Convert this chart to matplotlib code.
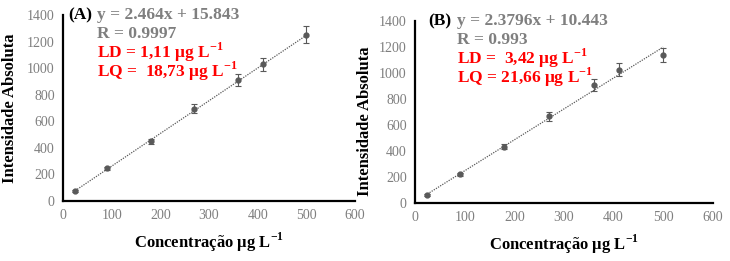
import matplotlib
matplotlib.use("Agg")
import matplotlib.pyplot as plt

plt.rcParams['font.family'] = ['Liberation Serif', 'DejaVu Serif']
plt.rcParams['mathtext.fontset'] = 'custom'
plt.rcParams['mathtext.rm'] = 'Liberation Serif'
plt.rcParams['mathtext.bf'] = 'Liberation Serif:bold'

# dados
conc = [25, 90, 180, 270, 360, 410, 500]
int_a = [78, 246, 449, 695, 908, 1029, 1254]
err_a = [8, 10, 20, 35, 45, 50, 63]
int_b = [59, 220, 433, 669, 908, 1026, 1141]
err_b = [8, 10, 20, 35, 45, 49, 56]
slope_a, icpt_a = 2.464, 15.843
slope_b, icpt_b = 2.3796, 10.443

labels_a = ["y = 2.464x + 15.843", "R = 0.9997",
            r"LD = 1,11 μg L$^{\mathbf{-1}}$", r"LQ =  18,73 μg L$^{\mathbf{-1}}$"]
labels_b = ["y = 2.3796x + 10.443", "R = 0.993",
            r"LD =  3,42 μg L$^{\mathbf{-1}}$", r"LQ = 21,66 μg L$^{\mathbf{-1}}$"]

fig = plt.figure(figsize=(7.3, 2.61), dpi=100)
ax1 = fig.add_axes([0.0863, 0.230, 0.400, 0.712])
ax2 = fig.add_axes([0.5685, 0.222, 0.408, 0.697])


def painel(ax, y, err, a, b, tag, labels, xtag, xtxt, dy):
    ax.errorbar(conc, y, yerr=err, fmt='o', color='#595959', ms=3.5,
                ecolor='#595959', elinewidth=0.8, capsize=2, capthick=0.8, zorder=3)
    xs = [conc[0], conc[-1]]
    ax.plot(xs, [a * x + b for x in xs], ls=(0, (1, 1)), color='#595959', lw=0.9)
    ax.set_xlim(0, 600)
    ax.set_ylim(0, 1400)
    ax.set_xticks(range(0, 601, 100))
    ax.set_yticks(range(0, 1401, 200))
    for s in ['top', 'right']:
        ax.spines[s].set_visible(False)
    for s in ['left', 'bottom']:
        ax.spines[s].set_linewidth(1.6)
    ax.tick_params(length=0, labelsize=10, colors='#7f7f7f', pad=6)
    ax.set_xlabel(r"Concentração μg L$^{\mathbf{-1}}$", fontsize=12,
                  fontweight='bold', labelpad=6)
    ax.set_ylabel("Intensidade Absoluta", fontsize=12, fontweight='bold')
    ax.text(xtag, 1.0, tag, transform=ax.transAxes, fontsize=12.5,
            fontweight='bold', va='center')
    cores = ['#7f7f7f', '#7f7f7f', '#ff0000', '#ff0000']
    for i, (t, c) in enumerate(zip(labels, cores)):
        ax.text(xtxt, 1.0 - i * dy, t, transform=ax.transAxes,
                fontsize=12.5, fontweight='bold', color=c, va='center')


painel(ax1, int_a, err_a, slope_a, icpt_a, "(A)", labels_a, 0.017, 0.118, 0.1)
painel(ax2, int_b, err_b, slope_b, icpt_b, "(B)", labels_b, 0.044, 0.142, 0.103)
ax1.yaxis.set_label_coords(-0.155, 0.5)
ax2.yaxis.set_label_coords(-0.14, 0.45)

fig.savefig("out.png", dpi=100)
